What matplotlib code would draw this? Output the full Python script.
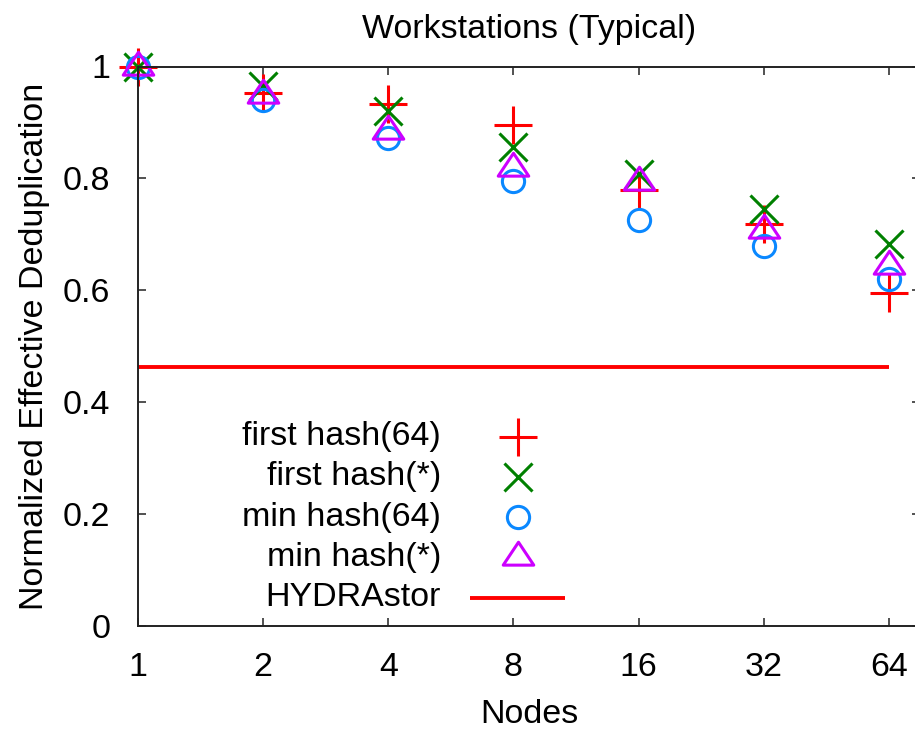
import matplotlib
matplotlib.use("Agg")
import matplotlib.pyplot as plt
from matplotlib.path import Path
import numpy as np

# ---- data ----
nodes = [1, 2, 4, 8, 16, 32, 64]
node_labels = ["1", "2", "4", "8", "16", "32", "64"]
first_hash_64 = [1.0, 0.953, 0.933, 0.896, 0.780, 0.718, 0.596]
first_hash_star = [1.0, 0.966, 0.921, 0.857, 0.808, 0.746, 0.683]
min_hash_64 = [1.0, 0.941, 0.873, 0.796, 0.725, 0.679, 0.620]
min_hash_star = [1.0, 0.949, 0.884, 0.819, 0.793, 0.708, 0.643]
hydrastor = 0.463
y_ticks = [0, 0.2, 0.4, 0.6, 0.8, 1.0]
y_tick_labels = ["0", "0.2", "0.4", "0.6", "0.8", "1"]
series_labels = ["first hash(64)", "first hash(*)", "min hash(64)", "min hash(*)", "HYDRAstor"]

plt.rcParams['font.family'] = ['Liberation Sans', 'DejaVu Sans']
FS = 24.5

W, H = 915, 731
fig = plt.figure(figsize=(W / 100, H / 100), dpi=100)
ax_l, ax_r, ax_t, ax_b = 138, 920, 66.5, 626
ax = fig.add_axes([ax_l / W, 1 - ax_b / H, (ax_r - ax_l) / W, (ax_b - ax_t) / H])

# gnuplot-like triangle with centroid at origin
tri = Path([(0, 4 / 3), (-4 / 3, -2 / 3), (4 / 3, -2 / 3), (0, 4 / 3)],
           [Path.MOVETO, Path.LINETO, Path.LINETO, Path.CLOSEPOLY])

red, green, blue, purple = '#FF0000', '#008000', '#0A88FF', '#CC00FF'
mew = 2.2
styles = [
    dict(marker='+', ms=27.5, color=red),
    dict(marker='x', ms=19.5, color=green),
    dict(marker='o', ms=16, color=blue, mfc='none'),
    dict(marker=tri, ms=22, color=purple, mfc='none'),
]
series = [first_hash_64, first_hash_star, min_hash_64, min_hash_star]
for vals, st in zip(series, styles):
    ax.plot(nodes, vals, linestyle='none', mew=mew, clip_on=False, **st)

ax.plot([nodes[0], nodes[-1]], [hydrastor, hydrastor], color=red, lw=2.8,
        solid_capstyle='butt')

ax.set_xscale('log', base=2)
ax.set_xlim(1, 76)
ax.set_ylim(0, 1)
ax.set_xticks(nodes)
ax.set_xticklabels(node_labels)
ax.minorticks_off()
ax.set_yticks(y_ticks)
ax.set_yticklabels(y_tick_labels)
ax.tick_params(direction='in', length=5.8, width=1.1, top=True, right=True,
               labelsize=FS, color='#222222')
ax.tick_params(axis='y', pad=20)
ax.tick_params(axis='x', pad=19)
for s in ax.spines.values():
    s.set_linewidth(1.4)
    s.set_color('#222222')

ax.set_xlabel("Nodes", fontsize=FS, labelpad=11.5)
ax.set_ylabel("Normalized Effective Deduplication", fontsize=FS, labelpad=9)
ax.set_title("Workstations (Typical)", fontsize=FS, pad=20.5)

# gnuplot-style legend: right-justified text, sample to the right
tx, mx = 0.3875, 0.4854
ly0, dy = 0.3383, 0.07185
for i, lab in enumerate(series_labels):
    y = ly0 - i * dy
    ax.text(tx, y, lab, transform=ax.transAxes, ha='right', va='center', fontsize=FS)
    if i < 4:
        ax.plot([mx], [y], transform=ax.transAxes, linestyle='none', mew=mew,
                clip_on=False, **styles[i])
    else:
        ax.plot([0.4246, 0.546], [y, y], transform=ax.transAxes, color=red, lw=2.8,
                solid_capstyle='butt')

fig.savefig("out.png", dpi=100)
